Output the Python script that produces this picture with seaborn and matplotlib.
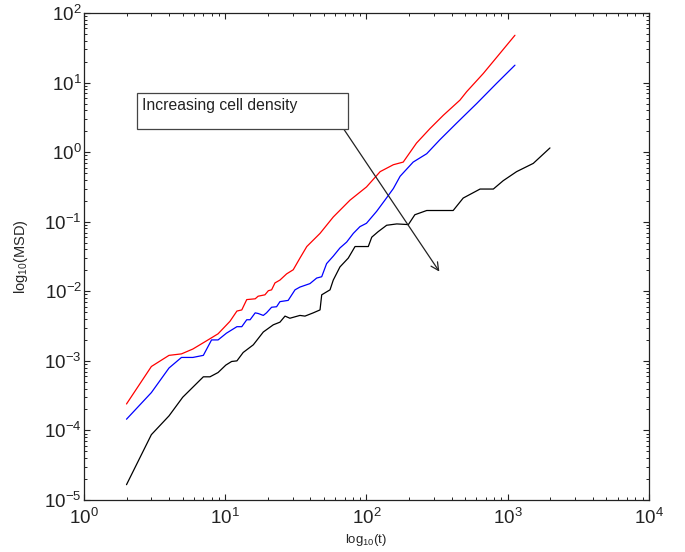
import numpy as np
import pandas as pd
import matplotlib
matplotlib.use("Agg")
import matplotlib.pyplot as plt
import matplotlib.patches as patches
import seaborn as sns

# values (lag time t, MSD)
t_red = [2, 3, 4, 4.9, 5.9, 7.4, 8.9, 10.8, 12.1, 13.1,
         14.2, 16.3, 17.1, 19.1, 20.2, 21.3, 22.5, 24.4, 27.2, 30.3,
         33.8, 37.8, 46.9, 58.2, 76.4, 100, 125, 155, 182, 226,
         282, 350, 459, 512, 671, 881, 1125]
msd_red = [2.4e-4, 8.3e-4, 1.2e-3, 1.26e-3, 1.48e-3, 1.95e-3, 2.45e-3, 3.7e-3, 5.2e-3, 5.4e-3,
           7.6e-3, 7.8e-3, 8.5e-3, 8.9e-3, 1.02e-2, 1.05e-2, 1.32e-2, 1.45e-2, 1.78e-2, 2.04e-2,
           3.0e-2, 4.4e-2, 6.8e-2, 0.117, 0.204, 0.316, 0.525, 0.66, 0.72, 1.35,
           2.19, 3.39, 5.6, 7.4, 13.5, 26.3, 47.9]

t_blue = [2, 3, 4, 4.9, 5.9, 7.0, 8.0, 8.9, 10.2, 12.1,
          13.1, 14.2, 15.0, 16.3, 17.1, 18.6, 19.6, 21.3, 23.1, 24.4,
          27.9, 31.2, 33.8, 39.8, 44.4, 48.2, 52.2, 58.2, 64.9, 72.4,
          80.7, 89.9, 100, 118, 135, 155, 173, 214, 267, 331,
          436, 603, 836, 1125]
msd_blue = [1.45e-4, 3.5e-4, 7.9e-4, 1.12e-3, 1.12e-3, 1.2e-3, 2.0e-3, 2.0e-3, 2.5e-3, 3.1e-3,
            3.1e-3, 3.9e-3, 3.9e-3, 4.9e-3, 4.8e-3, 4.5e-3, 4.9e-3, 5.9e-3, 6.0e-3, 7.1e-3,
            7.4e-3, 1.05e-2, 1.15e-2, 1.29e-2, 1.55e-2, 1.62e-2, 2.5e-2, 3.2e-2, 4.2e-2, 5.1e-2,
            6.8e-2, 8.5e-2, 9.5e-2, 0.141, 0.204, 0.30, 0.45, 0.72, 0.95, 1.51,
            2.63, 5.0, 9.8, 17.8]

t_black = [2, 3, 4, 5, 7, 7.8, 8.9, 10.1, 11.1, 12.1,
           13.4, 15.8, 18.6, 21.9, 24.4, 26.5, 28.7, 33.8, 36.7, 42,
           46.9, 48.2, 55.2, 58.2, 64.9, 74.3, 83, 103, 109, 121,
           139, 164, 198, 220, 267, 390, 411, 484, 637, 791,
           929, 1156, 1517, 1991]
msd_black = [1.66e-5, 8.7e-5, 1.62e-4, 3.0e-4, 5.9e-4, 5.9e-4, 6.8e-4, 8.7e-4, 9.8e-4, 1.0e-3,
             1.32e-3, 1.7e-3, 2.6e-3, 3.3e-3, 3.6e-3, 4.4e-3, 4.1e-3, 4.5e-3, 4.4e-3, 4.9e-3,
             5.4e-3, 8.9e-3, 1.05e-2, 1.45e-2, 2.24e-2, 3.0e-2, 4.4e-2, 4.4e-2, 6.0e-2, 7.2e-2,
             8.9e-2, 9.3e-2, 9.1e-2, 0.126, 0.145, 0.145, 0.145, 0.219, 0.295, 0.295,
             0.389, 0.525, 0.69, 1.15]

x_ticks = [1, 10, 100, 1000, 10000]
y_ticks = [1e-5, 1e-4, 1e-3, 1e-2, 1e-1, 1, 10, 100]

sns.set_style("ticks")
plt.rcParams['font.family'] = ['Liberation Sans', 'DejaVu Sans']
plt.rcParams['mathtext.fontset'] = 'custom'
plt.rcParams['mathtext.rm'] = 'Liberation Sans'
plt.rcParams['mathtext.it'] = 'Liberation Sans'

fig = plt.figure(figsize=(6.85, 5.52), dpi=100)
ax = fig.add_axes([0.1226, 0.0942, 0.8248, 0.8822])

for tt, mm, col in [(t_red, msd_red, '#ff0000'),
                    (t_blue, msd_blue, '#0000ff'),
                    (t_black, msd_black, '#000000')]:
    df = pd.DataFrame({'t': tt, 'msd': mm})
    sns.lineplot(data=df, x='t', y='msd', color=col, lw=0.9,
                 estimator=None, sort=False, ax=ax)

ax.set_xscale('log')
ax.set_yscale('log')
ax.set_xticks(x_ticks)
ax.set_yticks(y_ticks)
ax.xaxis.set_minor_locator(matplotlib.ticker.LogLocator(base=10, subs=np.arange(2, 10), numticks=20))
ax.yaxis.set_minor_locator(matplotlib.ticker.LogLocator(base=10, subs=np.arange(2, 10), numticks=20))
ax.xaxis.set_minor_formatter(matplotlib.ticker.NullFormatter())
ax.yaxis.set_minor_formatter(matplotlib.ticker.NullFormatter())
ax.set_xlim(1, 1e4)
ax.set_ylim(1e-5, 1e2)

for s in ax.spines.values():
    s.set_visible(True)
    s.set_linewidth(0.9)
    s.set_color('#222222')
ax.tick_params(which='both', direction='in', top=True, right=True, colors='#222222')
ax.tick_params(which='major', length=4.5, width=0.8, labelsize=13.5)
ax.tick_params(which='minor', length=2.5, width=0.7)
ax.tick_params(axis='x', which='major', pad=6)
ax.tick_params(axis='y', which='major', pad=1.5)

ax.set_xlabel(r'log$_{10}$(t)', fontsize=9.5)
ax.set_ylabel(r'log$_{10}$(MSD)', fontsize=10.5)
ax.xaxis.set_label_coords(0.5, -0.066)
ax.yaxis.set_label_coords(-0.095, 0.5)

# text box and arrow
box = patches.Rectangle((0.093, 0.761), 0.375, 0.074, transform=ax.transAxes,
                        facecolor='white', edgecolor='#444444', lw=0.9, zorder=5)
ax.add_patch(box)
ax.text(0.102, 0.826, 'Increasing cell density', transform=ax.transAxes,
        fontsize=11.3, va='top', ha='left', color='#222222', zorder=6)
ax.annotate('', xy=(0.629, 0.469), xytext=(0.4597, 0.7618),
            xycoords='axes fraction', textcoords='axes fraction',
            arrowprops=dict(arrowstyle='->', color='#222222', lw=0.9,
                            shrinkA=0, shrinkB=0, mutation_scale=14))

fig.savefig('out.png', dpi=100)
